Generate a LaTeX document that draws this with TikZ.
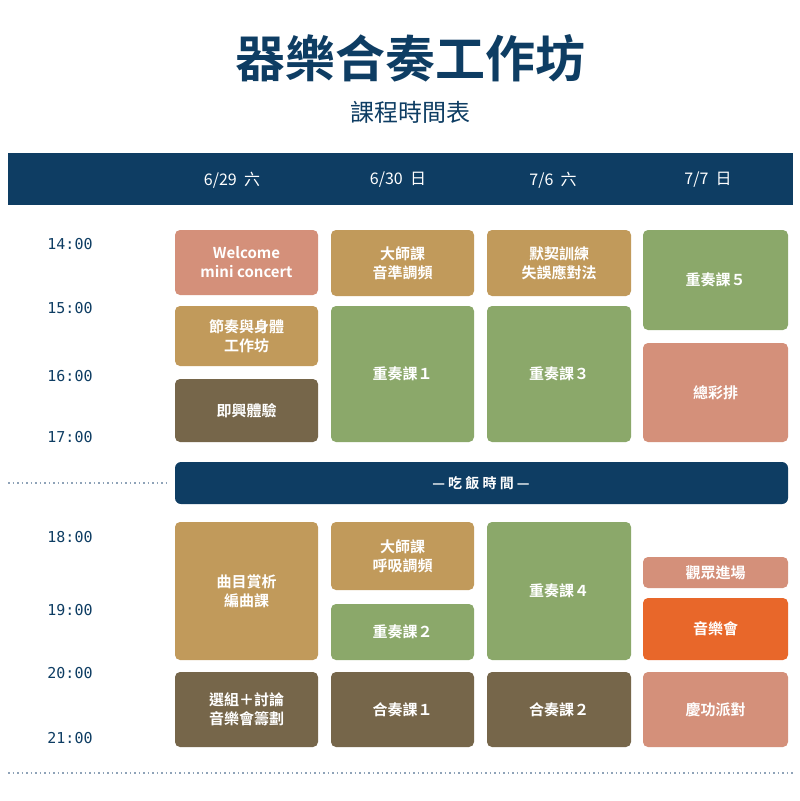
\documentclass[tikz,border=0pt]{standalone}
\usepackage{fontspec}
\setmainfont{Noto Sans CJK TC}
\newfontfamily\cjkb{Noto Sans CJK TC Bold}
\newfontfamily\tmono{DejaVu Sans Mono}
\begin{document}
\begin{tikzpicture}[x=1pt,y=-1pt,
  box/.style={rounded corners=5pt,text=white,font=\cjkb\fontsize{15}{19}\selectfont,align=center},
  tlab/.style={text=navy,font=\tmono\fontsize{15}{15}\selectfont},
  dlab/.style={text=white,font=\fontsize{16}{16}\selectfont}]
\definecolor{navy}{HTML}{0E3D63}
\definecolor{salmon}{HTML}{D4907A}
\definecolor{gold}{HTML}{C19A5B}
\definecolor{brn}{HTML}{76664A}
\definecolor{grn}{HTML}{8BA86A}
\definecolor{org}{HTML}{E8672A}
\definecolor{dotc}{HTML}{8FA3B8}
\useasboundingbox (0,0) rectangle (800,801);
\fill[white] (0,0) rectangle (800,801);
\node[text=navy,font=\cjkb\fontsize{50}{50}\selectfont] (title) at (410,58) {器樂合奏工作坊};
\node[text=navy,font=\fontsize{24}{24}\selectfont] (sub) at (410,112) {課程時間表};
\fill[navy] (8,153) rectangle (793,205);
\node[dlab] (d1) at (232,180) {6/29\ \ 六};
\node[dlab] (d2) at (398,180) {6/30\ \ 日};
\node[dlab] (d3) at (553,180) {7/6\ \ 六};
\node[dlab] (d4) at (708,180) {7/7\ \ 日};
\foreach \t/\y [count=\i] in {14:00/244,15:00/308,16:00/376,17:00/437,18:00/537,19:00/610,20:00/673,21:00/738}
  \node[tlab] (t\i) at (70,\y) {\t};
\draw[dotc,line width=1.5pt,dash pattern=on 1.5pt off 3pt] (8,483) -- (170,483);
\draw[dotc,line width=1.5pt,dash pattern=on 1.5pt off 3pt] (8,773) -- (793,773);
\newcommand\bx[7]{\fill[#6,rounded corners=5pt] (#2,#4) rectangle (#3,#5);
  \node[box] (#1) at ({(#2+#3)/2},{(#4+#5)/2}) {#7};}
\bx{a1}{175}{318}{230}{295}{salmon}{Welcome\\mini concert}
\bx{a2}{175}{318}{306}{366}{gold}{節奏與身體\\工作坊}
\bx{a3}{175}{318}{379}{442}{brn}{即興體驗}
\bx{b1}{331}{474}{230}{296}{gold}{大師課\\音準調頻}
\bx{b2}{331}{474}{306}{442}{grn}{重奏課１}
\bx{c1}{487}{631}{230}{296}{gold}{默契訓練\\失誤應對法}
\bx{c2}{487}{631}{306}{442}{grn}{重奏課３}
\bx{e1}{643}{788}{230}{330}{grn}{重奏課５}
\bx{e2}{643}{788}{343}{442}{salmon}{總彩排}
\fill[navy,rounded corners=6pt] (175,462) rectangle (788,504);
\node[text=white,font=\cjkb\fontsize{14}{14}\selectfont] (meal) at (481,483) {— 吃 飯 時 間 —};
\bx{a4}{175}{318}{522}{660}{gold}{曲目賞析\\編曲課}
\bx{a5}{175}{318}{672}{747}{brn}{選組＋討論\\音樂會籌劃}
\bx{b3}{331}{474}{522}{590}{gold}{大師課\\呼吸調頻}
\bx{b4}{331}{474}{604}{660}{grn}{重奏課２}
\bx{b5}{331}{474}{672}{747}{brn}{合奏課１}
\bx{c3}{487}{631}{522}{660}{grn}{重奏課４}
\bx{c4}{487}{631}{672}{747}{brn}{合奏課２}
\bx{e3}{643}{788}{557}{588}{salmon}{觀眾進場}
\bx{e4}{643}{788}{598}{660}{org}{音樂會}
\bx{e5}{643}{788}{672}{747}{salmon}{慶功派對}
\end{tikzpicture}
\end{document}
